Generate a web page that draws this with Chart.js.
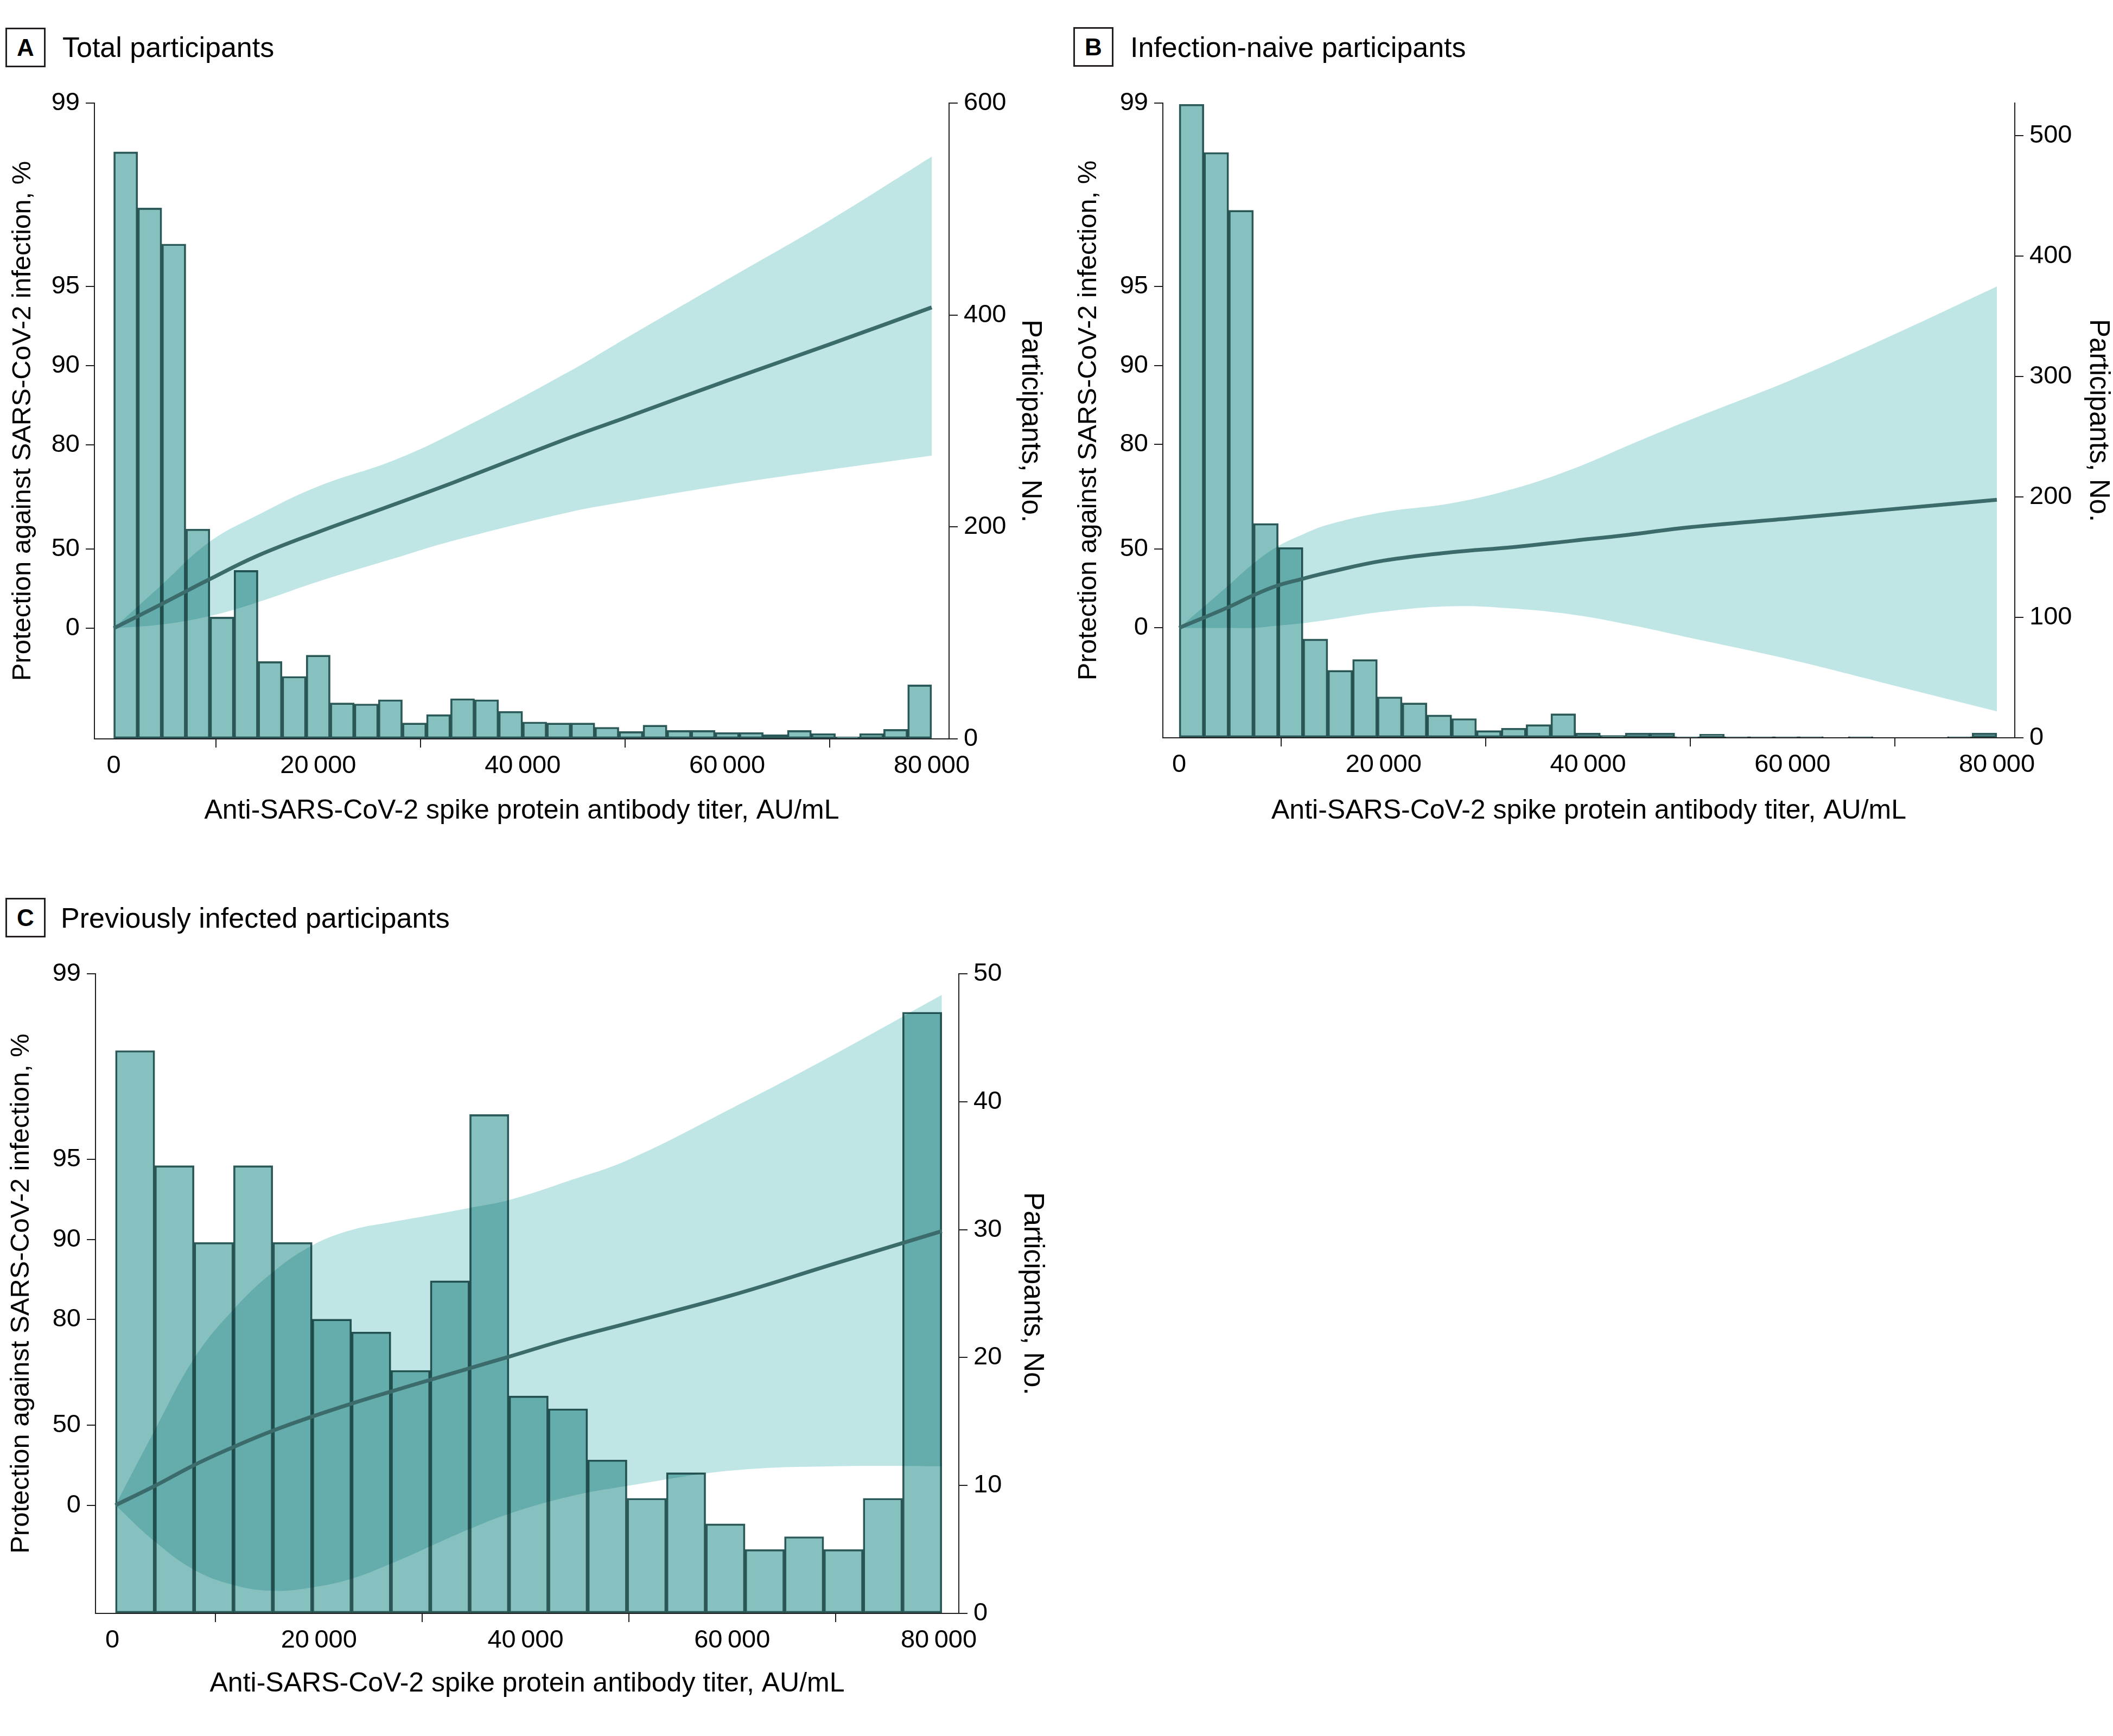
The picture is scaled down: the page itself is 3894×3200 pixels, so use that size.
<!DOCTYPE html>
<html>
<head>
<meta charset="utf-8">
<script src="https://cdn.jsdelivr.net/npm/chart.js@4.4.1/dist/chart.umd.min.js"></script>
<style>
  body { margin: 0; width: 3894px; height: 3200px; background: #fff; position: relative; font-family: 'Liberation Sans', Arial, sans-serif; }
  canvas { position: absolute; }
  .box { position: absolute; box-sizing: border-box; width: 74px; height: 73px; border: 3px solid #231f20; font-size: 44px; font-weight: bold; line-height: 67px; text-align: center; color: #000; }
  .ptitle { position: absolute; font-size: 52px; line-height: 52px; white-space: nowrap; color: #000; }
</style>
</head>
<body>
<div class="box" style="left:10px; top:51px;">A</div>
<div class="ptitle" style="left:115px; top:61px;">Total participants</div>
<div class="box" style="left:1978px; top:50px;">B</div>
<div class="ptitle" style="left:2083px; top:61px;">Infection-naive participants</div>
<div class="box" style="left:10px; top:1655px;">C</div>
<div class="ptitle" style="left:112px; top:1666px;">Previously infected participants</div>

<canvas id="chartA" width="1950" height="1420" style="left:0px; top:150px;"></canvas>
<canvas id="chartB" width="1929" height="1420" style="left:1965px; top:150px;"></canvas>
<canvas id="chartC" width="1960" height="1425" style="left:0px; top:1755px;"></canvas>

<script>
// tick values shared by the three panels
var xTicks = [0, 20000, 40000, 60000, 80000];
var protectionTicks = [0, 50, 80, 90, 95, 99];

// A - total participants
var countsA = [554, 501, 467, 198, 115, 159, 73, 59, 79, 34, 33, 37, 15, 23, 38, 37, 26, 16, 15, 15, 11, 7, 13, 8, 8, 6, 6, 4, 8, 5, 2, 5, 9, 51];
var participantTicksA = [0, 200, 400, 600];
var titerA = [0, 4600, 9300, 14000, 20000, 27300, 33400, 44600, 50000, 60000, 70000, 80000];
var protectionA = [0, 18.8, 34.7, 46.9, 57.0, 66.1, 72.3, 81.2, 84.2, 88.6, 91.7, 94.0];
var upperA = [0, 31.1, 52.9, 62.8, 71.2, 77.0, 82.1, 89.5, 92.1, 95.3, 97.2, 98.4];
var lowerA = [0, 3.2, 10.0, 20.2, 33.6, 45.6, 53.8, 63.9, 67.0, 71.6, 75.1, 78.0];

// B - infection-naive participants
var countsB = [526, 486, 438, 178, 158, 82, 56, 65, 34, 29, 19, 16, 6, 8, 11, 20, 4, 2, 4, 4, 1, 3, 1, 1, 1, 1, 0, 1, 0, 0, 0, 1, 4];
var participantTicksB = [0, 100, 200, 300, 400, 500];
var titerB = [0, 4800, 7200, 9600, 12000, 14500, 20000, 26600, 32700, 38600, 43900, 50000, 60000, 70000, 80000];
var protectionB = [0, 16.6, 24.7, 31.0, 34.9, 38.5, 44.6, 48.5, 50.8, 53.5, 55.8, 58.7, 61.8, 64.8, 67.5];
var upperB = [0, 31.0, 42.9, 51.0, 55.8, 59.5, 63.8, 66.5, 70.5, 75.3, 79.8, 83.9, 88.7, 92.4, 95.0];
var lowerB = [0, 0, 0, 2.0, 4.0, 6.8, 13.3, 17.3, 15.6, 10.9, 3.0, -9.1, -32.6, -66.0, -107.9];

// C - previously infected participants
var countsC = [44, 35, 29, 35, 29, 23, 22, 19, 26, 39, 17, 16, 12, 9, 11, 7, 5, 6, 5, 9, 47];
var participantTicksC = [0, 10, 20, 30, 40, 50];
var titerC = [300, 4150, 7950, 11800, 15600, 19400, 23200, 27000, 30800, 34600, 38400, 44250, 50000, 60000, 70000, 80300];
var protectionC = [0, 15.6, 29.5, 39.8, 47.7, 53.7, 58.6, 62.7, 66.3, 69.5, 72.4, 76.4, 79.4, 83.8, 87.7, 90.7];
var upperC = [0, 48.2, 72.1, 81.8, 86.8, 89.5, 90.8, 91.4, 91.9, 92.4, 92.9, 94.0, 95.0, 96.8, 98.0, 98.8];
var lowerC = [0, -37.3, -75.2, -99.8, -109.8, -103.6, -88.9, -65.7, -42.6, -22.8, -7.7, 7.3, 15.6, 26.0, 28.7, 28.7];

var BAR_FILL = '#86c1c0';
var BAR_EDGE = '#2d5b5a';
var BAND = '#bfe5e5';
var LINE = '#3b6b6a';
var INK = '#231f20';

Chart.defaults.font.family = "'Liberation Sans', Arial, sans-serif";
Chart.defaults.color = '#000';

// protection axis is on a -log(1 - p) scale
function toLog(p) {
    return -Math.log(1 - p / 100);
}

function fromLog(v) {
    return Math.round(100 * (1 - Math.exp(-v)));
}

function withSpace(v) {
    return String(v).replace(/\B(?=(\d{3})+(?!\d))/g, '\u2009');
}

// bars overlapping the band get darker, like the printed figure
var multiplyBars = {
    id: 'multiplyBars',
    beforeDatasetDraw: function(chart, args) {
        if (args.meta.type === 'bar') {
            chart.ctx.save();
            chart.ctx.globalCompositeOperation = 'multiply';
        }
    },
    afterDatasetDraw: function(chart, args) {
        if (args.meta.type === 'bar') {
            chart.ctx.restore();
        }
    }
};

function tickGrid() {
    return {
        display: true,
        drawOnChartArea: false,
        drawTicks: true,
        tickLength: 16,
        tickWidth: 2,
        lineWidth: 2,
        tickColor: INK,
        color: INK
    };
}

function buildPanel(id, p) {
    var binW = (p.binEnd - p.binStart) / p.counts.length;
    var bars = p.counts.map(function(c, i) {
        return { x: p.binStart + (i + 0.5) * binW, y: c };
    });
    var curve = function(arr) {
        return p.titer.map(function(x, i) {
            return { x: x, y: toLog(arr[i]) };
        });
    };

    var ctx = document.getElementById(id).getContext('2d');
    return new Chart(ctx, {
        type: 'bar',
        data: {
            datasets: [
                {
                    type: 'line',
                    label: 'upper',
                    data: curve(p.upper),
                    yAxisID: 'yL',
                    borderWidth: 0,
                    pointRadius: 0,
                    backgroundColor: BAND,
                    fill: '+1',
                    tension: 0.4,
                    order: 3
                },
                {
                    type: 'line',
                    label: 'lower',
                    data: curve(p.lower),
                    yAxisID: 'yL',
                    borderWidth: 0,
                    pointRadius: 0,
                    fill: false,
                    tension: 0.4,
                    order: 3
                },
                {
                    type: 'bar',
                    label: 'Participants',
                    data: bars,
                    yAxisID: 'yR',
                    backgroundColor: BAR_FILL,
                    borderColor: BAR_EDGE,
                    borderWidth: 3,
                    borderSkipped: false,
                    barPercentage: 1,
                    categoryPercentage: 1,
                    order: 2
                },
                {
                    type: 'line',
                    label: 'Protection',
                    data: curve(p.line),
                    yAxisID: 'yL',
                    borderColor: LINE,
                    borderWidth: 7,
                    pointRadius: 0,
                    fill: false,
                    tension: 0.4,
                    order: 1
                }
            ]
        },
        options: {
            responsive: false,
            maintainAspectRatio: false,
            animation: false,
            layout: { padding: { top: 40, left: 0, right: 0, bottom: 0 } },
            scales: {
                x: {
                    type: 'linear',
                    bounds: 'data',
                    offset: false,
                    min: p.xMin,
                    max: p.xMax,
                    afterBuildTicks: function(s) {
                        s.ticks = xTicks.map(function(v) { return { value: v }; });
                    },
                    afterFit: function(s) { s.height = p.bottomH; },
                    border: { display: true, color: INK, width: 2 },
                    grid: tickGrid(),
                    ticks: {
                        autoSkip: false,
                        maxRotation: 0,
                        padding: 11,
                        font: { size: 47, lineHeight: 1 },
                        callback: function(v) { return withSpace(v); }
                    },
                    title: {
                        display: true,
                        text: 'Anti-SARS-CoV-2 spike protein antibody titer, AU/mL',
                        font: { size: 50, lineHeight: 1 },
                        padding: { top: 0, bottom: p.bottomPad }
                    }
                },
                yL: {
                    type: 'linear',
                    position: 'left',
                    bounds: 'data',
                    min: p.yMin,
                    max: toLog(99),
                    afterBuildTicks: function(s) {
                        s.ticks = protectionTicks.map(function(v) { return { value: toLog(v) }; });
                    },
                    afterFit: function(s) { s.width = p.leftW; },
                    border: { display: true, color: INK, width: 2 },
                    grid: tickGrid(),
                    ticks: {
                        autoSkip: false,
                        padding: 11,
                        font: { size: 47, lineHeight: 1 },
                        callback: function(v) { return String(fromLog(v)); }
                    },
                    title: {
                        display: true,
                        text: 'Protection against SARS-CoV-2 infection, %',
                        font: { size: 49, lineHeight: 1 },
                        padding: { top: p.leftPad, bottom: 0 }
                    }
                },
                yR: {
                    type: 'linear',
                    position: 'right',
                    bounds: 'data',
                    min: 0,
                    max: p.rMax,
                    afterBuildTicks: function(s) {
                        s.ticks = p.rTicks.map(function(v) { return { value: v }; });
                    },
                    afterFit: function(s) { s.width = p.rightW; },
                    border: { display: true, color: INK, width: 2 },
                    grid: tickGrid(),
                    ticks: {
                        autoSkip: false,
                        padding: 11,
                        font: { size: 47, lineHeight: 1 }
                    },
                    title: {
                        display: true,
                        text: 'Participants, No.',
                        font: { size: 51, lineHeight: 1 },
                        padding: { top: p.rightPad, bottom: 0 }
                    }
                }
            },
            plugins: {
                legend: { display: false },
                tooltip: { enabled: false },
                filler: { drawTime: 'beforeDatasetsDraw' }
            }
        },
        plugins: [multiplyBars]
    });
}

buildPanel('chartA', {
    counts: countsA, binStart: 0, binEnd: 80000,
    titer: titerA, line: protectionA, upper: upperA, lower: lowerA,
    rTicks: participantTicksA, rMax: 600,
    xMin: -1884, xMax: 81698, yMin: -0.97,
    leftW: 174, rightW: 201, bottomH: 208,
    leftPad: 18, rightPad: 26, bottomPad: 50
});

buildPanel('chartB', {
    counts: countsB, binStart: 0, binEnd: 80000,
    titer: titerB, line: protectionB, upper: upperB, lower: lowerB,
    rTicks: participantTicksB, rMax: 527,
    xMin: -1593, xMax: 81752, yMin: -0.964,
    leftW: 178, rightW: 181, bottomH: 210,
    leftPad: 17, rightPad: 2, bottomPad: 50
});

buildPanel('chartC', {
    counts: countsC, binStart: 300, binEnd: 80300,
    titer: titerC, line: protectionC, upper: upperC, lower: lowerC,
    rTicks: participantTicksC, rMax: 50,
    xMin: -1628, xMax: 81943, yMin: -0.937,
    leftW: 176, rightW: 193, bottomH: 206,
    leftPad: 15, rightPad: 32, bottomPad: 51
});
</script>
</body>
</html>
